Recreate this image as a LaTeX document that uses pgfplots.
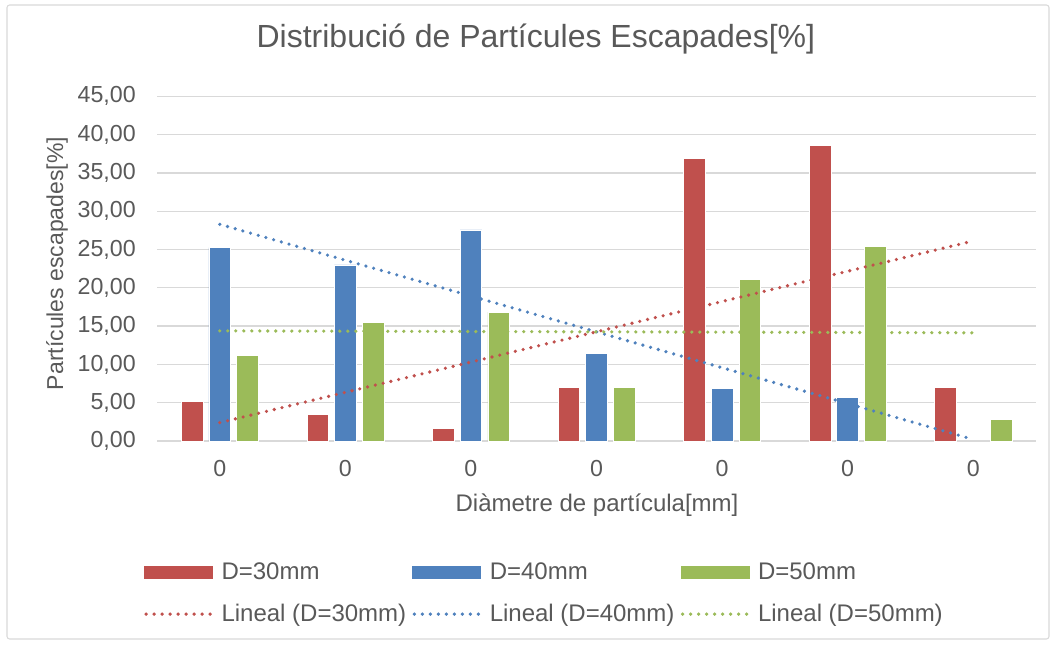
\documentclass[border=0pt]{standalone}
\usepackage{fontspec}
\setmainfont{Liberation Sans}
\usepackage{pgfplots}
\usepackage{pgfplotstable}
\pgfplotsset{compat=1.18}

\definecolor{serA}{HTML}{C0504D}
\definecolor{serB}{HTML}{4F81BD}
\definecolor{serC}{HTML}{9BBB59}
\definecolor{txtgray}{HTML}{595959}
\definecolor{gridgray}{HTML}{D9D9D9}

% escaped particles per size class, for the three diameters
\pgfplotstableread{
cat d30   d40   d50
1   5.22  25.25 11.19
2   3.49  22.98 15.50
3   1.66  27.55 16.84
4   7.01  11.45  7.00
5   36.87  6.84 21.10
6   38.60  5.67 25.38
7   6.97  nan    2.79
}\particles

\tikzset{
  trend/.style={line width=2.7pt, line cap=round, dash pattern=on 0pt off 6pt},
  barbox/.style={draw=white, line width=0.6pt},
}

\begin{document}
\begin{tikzpicture}
\path (0,0) rectangle (792pt,483pt);
\draw[gridgray, line width=0.8pt, rounded corners=2pt] (5.25pt,3.75pt) rectangle (786.75pt,479.25pt);
\begin{axis}[
  at={(117.75pt,152.25pt)}, anchor=south west,
  scale only axis, width=659.25pt, height=258.5pt,
  xmin=0.5, xmax=7.5, ymin=0, ymax=45,
  axis line style={draw=none},
  major tick length=0pt,
  ymajorgrids, grid style={gridgray, line width=1pt},
  xtick={1,...,7}, xticklabels={0,0,0,0,0,0,0},
  ytick={0,5,...,45},
  /pgf/number format/assume math mode=true,
  tick label style={font=\fontsize{17.4pt}{20pt}\selectfont, text=txtgray},
  yticklabel style={inner sep=0pt, xshift=-15.75pt,
    /pgf/number format/fixed, /pgf/number format/fixed zerofill,
    /pgf/number format/precision=2, /pgf/number format/use comma},
  xticklabel style={inner sep=0pt, yshift=-14pt},
  label style={text=txtgray},
  xlabel={Diàmetre de partícula[mm]},
  ylabel={Partícules escapades[\%]},
  xlabel style={at={(axis description cs:0.5006,-0.1857)}, anchor=center,
    font=\fontsize{18pt}{21pt}\selectfont},
  ylabel style={at={(axis description cs:-0.1138,0.515)}, anchor=center,
    font=\fontsize{17.25pt}{20pt}\selectfont},
  title={Distribució de Partícules Escapades[\%]},
  title style={at={(axis description cs:0.431,1.143)}, anchor=center,
    font=\fontsize{24pt}{28pt}\selectfont, text=txtgray},
  legend columns=3,
  legend cell align=left,
  legend style={at={(axis description cs:-0.0148,-0.354)}, anchor=north west,
    draw=none, fill=none, inner sep=0pt, outer sep=0pt,
    font=\fontsize{18pt}{21pt}\selectfont, text=txtgray,
    nodes={inner sep=0pt},
    row sep=17pt,
    /tikz/every odd column/.append style={column sep=5.5pt},
    /tikz/every even column/.append style={column sep=4.5pt}},
]
\addplot[ybar, bar width=16.3pt, bar shift=-20.6pt, fill=serA, barbox,
  legend image code/.code={\fill[serA] (0pt,-4.75pt) rectangle (51pt,4.75pt);}]
  table[x=cat, y=d30] {\particles};
\addplot[ybar, bar width=16.3pt, bar shift=0pt, fill=serB, barbox,
  legend image code/.code={\fill[serB] (0pt,-4.75pt) rectangle (51pt,4.75pt);}]
  table[x=cat, y=d40] {\particles};
\addplot[ybar, bar width=16.3pt, bar shift=20.9pt, fill=serC, barbox,
  legend image code/.code={\fill[serC] (0pt,-4.75pt) rectangle (51pt,4.75pt);}]
  table[x=cat, y=d50] {\particles};
% linear trend lines (least-squares fits of the series above)
\addplot[serA, trend,
  legend image code/.code={\draw[serA, trend] (1.3pt,0pt) -- (51pt,0pt);}]
  coordinates {(1,2.40) (7,26.12)};
\addplot[serB, trend,
  legend image code/.code={\draw[serB, trend] (1.3pt,0pt) -- (51pt,0pt);}]
  coordinates {(1,28.29) (7,0.21)};
\addplot[serC, trend,
  legend image code/.code={\draw[serC, trend] (1.3pt,0pt) -- (51pt,0pt);}]
  coordinates {(1,14.38) (7,14.13)};
\legend{D=30mm, D=40mm, D=50mm, Lineal (D=30mm), Lineal (D=40mm), Lineal (D=50mm)}
\end{axis}
\end{tikzpicture}
\end{document}
